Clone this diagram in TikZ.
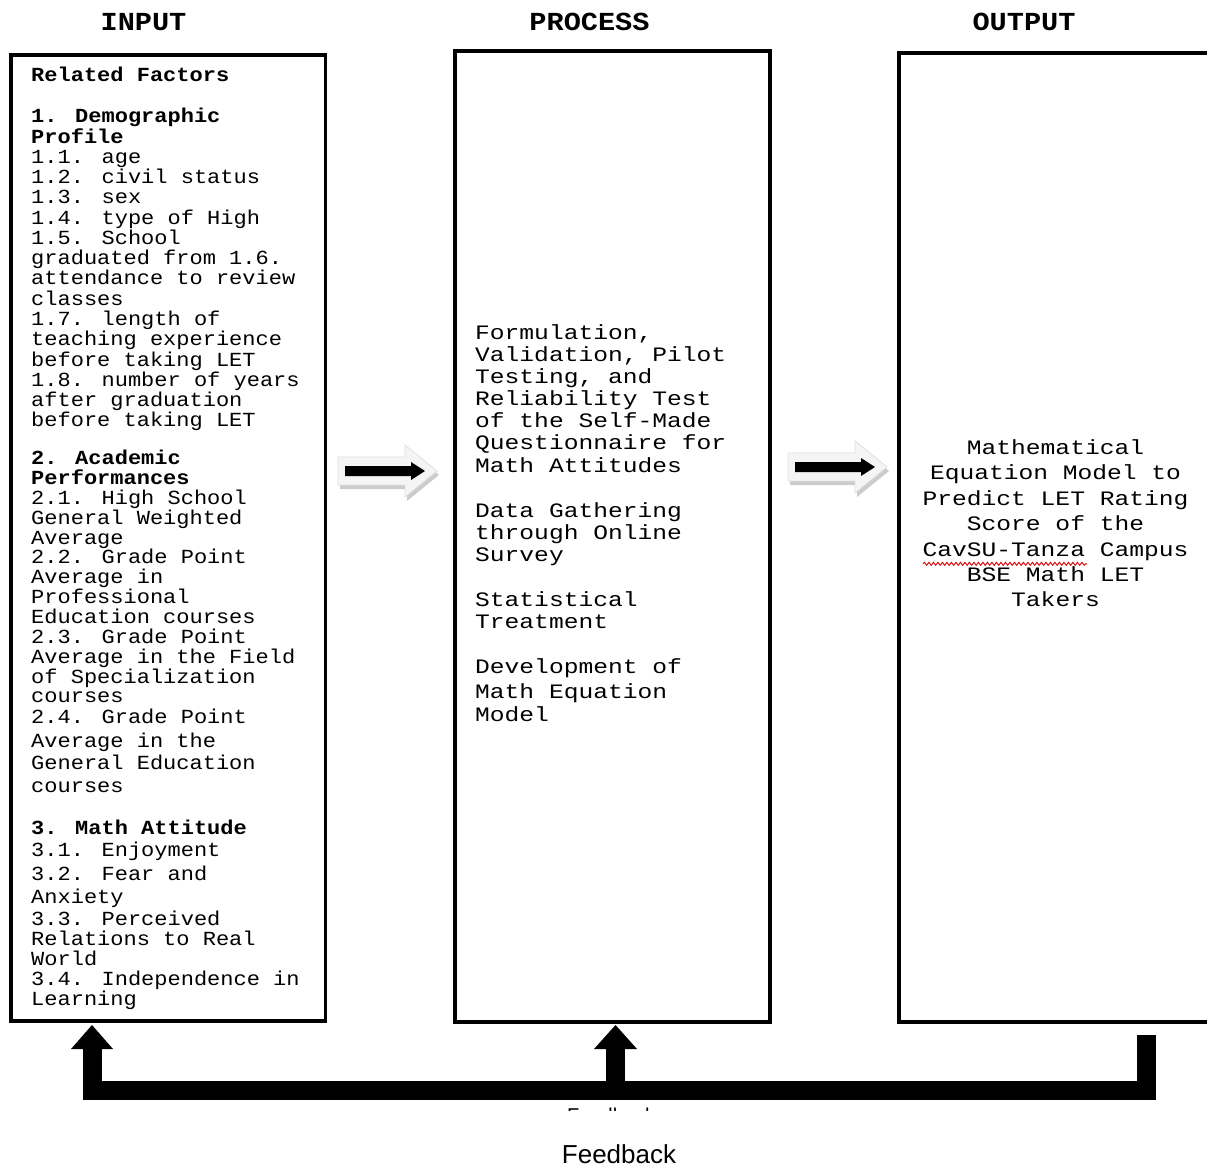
\documentclass[tikz,border=0pt]{standalone}
\usepackage{fontspec}
\newfontfamily\cin[FakeStretch=1.1]{Liberation Mono}
\newfontfamily\cpr[FakeStretch=1.2]{Liberation Mono}
\newfontfamily\chd[FakeStretch=1.1]{Liberation Mono}
\newfontfamily\arl{Liberation Sans}
\usetikzlibrary{decorations.pathmorphing}
\tikzset{
  box/.style={draw=black, line width=3.5pt, rectangle, inner sep=0pt, outer sep=0pt, anchor=north west},
  inl/.style={anchor=base west, inner sep=0pt, font=\cin\fontsize{20}{20}\selectfont},
  prl/.style={anchor=base west, inner sep=0pt, font=\cpr\fontsize{20.5}{22}\selectfont},
  outl/.style={anchor=base, inner sep=0pt, font=\cpr\fontsize{20.5}{22}\selectfont},
  hdr/.style={anchor=base, inner sep=0pt, font=\chd\bfseries\fontsize{26}{26}\selectfont},
  fb/.style={line width=19pt, line join=miter, line cap=butt, draw=black},
  blockarr/.pic={
    \fill[gray!40] (2,-10) -- (69,-10) -- (69,-22) -- (101,4) -- (69,30) -- (69,18) -- (2,18) -- cycle;
    \filldraw[fill=gray!8, draw=gray!25, line width=0.8pt] (0,-14) -- (67,-14) -- (67,-26) -- (99,0) -- (67,26) -- (67,14) -- (0,14) -- cycle;
    \fill[black] (7,-5) -- (73,-5) -- (73,-9) -- (87,0) -- (73,9) -- (73,5) -- (7,5) -- cycle;
  }
}
\begin{document}
\begin{tikzpicture}[x=1pt,y=-1pt]
\useasboundingbox (0,0) rectangle (1207,1167);
\clip (0,0) rectangle (1207,1167);
\fill[white] (0,0) rectangle (1207,1167);

% headers
\node[hdr] (hin) at (143.5,30) {INPUT};
\node[hdr] (hpr) at (589.5,30) {PROCESS};
\node[hdr] (hout) at (1024,30) {OUTPUT};

% boxes
\node[box, minimum width=314.5pt, minimum height=966pt] (inbox) at (11,55) {};
\node[box, minimum width=315pt, minimum height=971pt] (prbox) at (455,51) {};
\node[box, minimum width=340pt, minimum height=969pt] (outbox) at (899,53) {};

% input text
\foreach \yy/\txt [count=\i] in {
81/{\bfseries Related Factors},
122.7/{\bfseries 1. Demographic},
143/{\bfseries Profile},
163.2/{1.1. age},
183.5/{1.2. civil status},
203.8/{1.3. sex},
224/{1.4. type of High},
244.3/{1.5. School},
264.6/{graduated from 1.6.},
284.9/{attendance to review},
305.1/{classes},
325.4/{1.7. length of},
345.7/{teaching experience},
366/{before taking LET},
386.2/{1.8. number of years},
406.5/{after graduation},
426.7/{before taking LET},
464.4/{\bfseries 2. Academic},
484/{\bfseries Performances},
504/{2.1. High School},
524/{General Weighted},
544/{Average},
563.5/{2.2. Grade Point},
583.5/{Average in},
603.5/{Professional},
623/{Education courses},
643/{2.3. Grade Point},
663/{Average in the Field},
683/{of Specialization},
702.5/{courses},
723/{2.4. Grade Point},
747/{Average in the},
769/{General Education},
792/{courses},
834/{\bfseries 3. Math Attitude},
856/{3.1. Enjoyment},
880/{3.2. Fear and},
903/{Anxiety},
925/{3.3. Perceived},
945/{Relations to Real},
965/{World},
985/{3.4. Independence in},
1005/{Learning}}
  \node[inl] (in\i) at (31,\yy) {\txt};

% process text
\foreach \yy/\txt [count=\i] in {
339.3/{Formulation,},
361/{Validation, Pilot},
383/{Testing, and},
405/{Reliability Test},
427/{of the Self-Made},
449.3/{Questionnaire for},
472.7/{Math Attitudes},
517.3/{Data Gathering},
539.3/{through Online},
561.7/{Survey},
606/{Statistical},
628.3/{Treatment},
673.3/{Development of},
698.3/{Math Equation},
721.7/{Model}}
  \node[prl] (pr\i) at (475,\yy) {\txt};

% output text
\foreach \yy/\txt [count=\i] in {
454/{Mathematical},
479.3/{Equation Model to},
505/{Predict LET Rating},
530.7/{Score of the},
556.7/{CavSU-Tanza Campus},
581.7/{BSE Math LET},
606.7/{Takers}}
  \node[outl] (out\i) at (1055.5,\yy) {\txt};

% spell-check underline
\coordinate (wv1) at (923,563.8);
\coordinate (wv2) at (1087,563.8);
\draw[red!85!black, line width=0.9pt, decorate, decoration={snake, amplitude=1.5pt, segment length=4.5pt}] (wv1) -- (wv2);

% block arrows
\pic (arr1) at (338,471) {blockarr};
\pic (arr2) at (788,467) {blockarr};

% feedback loop
\coordinate (fbR) at (1146.5,1035);
\coordinate (fbC) at (1146.5,1090.5);
\coordinate (fbLC) at (92,1090.5);
\coordinate (fbL) at (92,1048);
\coordinate (fbMC) at (615.5,1090.5);
\coordinate (fbM) at (615.5,1048);
\draw[fb] (fbR) -- (fbC) -- (fbLC) -- (fbL);
\draw[fb] (fbMC) -- (fbM);
\fill[black] (71,1049) -- (92,1025) -- (113,1049) -- cycle;
\fill[black] (594,1049) -- (615.5,1025) -- (637,1049) -- cycle;

% clipped feedback label (only ascender tops visible)
\begin{scope}
\clip (540,1101) rectangle (700,1110.8);
\node[anchor=base west, inner sep=0pt, font=\arl\fontsize{20}{20}\selectfont] (fbhid) at (567,1122) {Feedback};
\end{scope}
\node[anchor=base, inner sep=0pt, font=\arl\fontsize{26}{26}\selectfont] (fblab) at (619,1163.5) {Feedback};
\end{tikzpicture}
\end{document}
